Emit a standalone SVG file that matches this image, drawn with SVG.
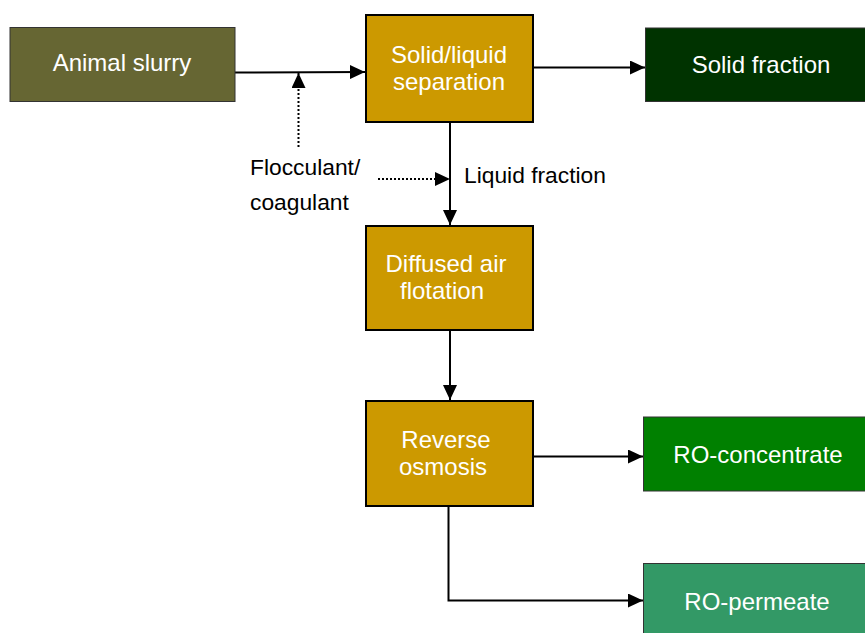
<svg xmlns="http://www.w3.org/2000/svg" width="865" height="633" viewBox="0 0 865 633">
<defs>
<marker id="ah" markerUnits="userSpaceOnUse" markerWidth="16" markerHeight="14" refX="15" refY="7" orient="auto">
<path d="M0,0 L15,7 L0,14 z" fill="#000"/>
</marker>
<style>
.box{stroke:#000;stroke-width:2}
.out{stroke:#333;stroke-width:1}
.wt{fill:#fff;font-family:"Liberation Sans",Arial,sans-serif;font-size:24px;text-anchor:middle}
.bt{fill:#000;font-family:"Liberation Sans",Arial,sans-serif;font-size:22.8px}
.ln{fill:none;stroke:#000;stroke-width:2}
.dot{fill:none;stroke:#000;stroke-width:2;stroke-dasharray:2 2}
</style>
</defs>
<rect width="865" height="633" fill="#fff"/>
<g id="connectors">
<path class="ln" d="M235,72.5 L365,72" marker-end="url(#ah)"/>
<path class="dot" d="M298.5,147 L298.5,73" marker-end="url(#ah)"/>
<path class="ln" d="M533,67.5 L645,67.5" marker-end="url(#ah)"/>
<path class="dot" d="M378,179 L450,179" marker-end="url(#ah)"/>
<path class="ln" d="M450,123 L450,225" marker-end="url(#ah)"/>
<path class="ln" d="M450,330 L450,400" marker-end="url(#ah)"/>
<path class="ln" d="M533,456.5 L643,456.5" marker-end="url(#ah)"/>
<path class="ln" d="M448.5,506 L448.5,600.5 L643,600.5" marker-end="url(#ah)"/>
</g>
<g id="animal-slurry">
<rect class="out" x="10" y="27.5" width="225" height="74" fill="#666633"/>
<text class="wt" x="122" y="71">Animal slurry</text>
</g>
<g id="solid-liquid-separation">
<rect class="box" x="366" y="15" width="167" height="107" fill="#CC9900"/>
<text class="wt" x="449" y="63">Solid/liquid</text>
<text class="wt" x="449" y="89.5">separation</text>
</g>
<g id="solid-fraction">
<rect class="out" x="645.5" y="28" width="222" height="73.5" fill="#003300"/>
<text class="wt" x="761" y="73">Solid fraction</text>
</g>
<g id="flocculant">
<text class="bt" x="250" y="175">Flocculant/</text>
<text class="bt" x="250" y="209.5">coagulant</text>
</g>
<g id="liquid-fraction">
<text class="bt" x="464" y="183">Liquid fraction</text>
</g>
<g id="diffused-air-flotation">
<rect class="box" x="366" y="226" width="167" height="104" fill="#CC9900"/>
<text class="wt" x="446" y="272">Diffused air</text>
<text class="wt" x="442" y="298.5">flotation</text>
</g>
<g id="reverse-osmosis">
<rect class="box" x="366" y="401" width="167" height="105" fill="#CC9900"/>
<text class="wt" x="446" y="448">Reverse</text>
<text class="wt" x="443" y="475">osmosis</text>
</g>
<g id="ro-concentrate">
<rect class="out" x="643.5" y="417" width="223" height="74" fill="#008000"/>
<text class="wt" x="758" y="463">RO-concentrate</text>
</g>
<g id="ro-permeate">
<rect class="out" x="643.5" y="563.5" width="223" height="75" fill="#339966"/>
<text class="wt" x="757" y="610">RO-permeate</text>
</g>
</svg>
